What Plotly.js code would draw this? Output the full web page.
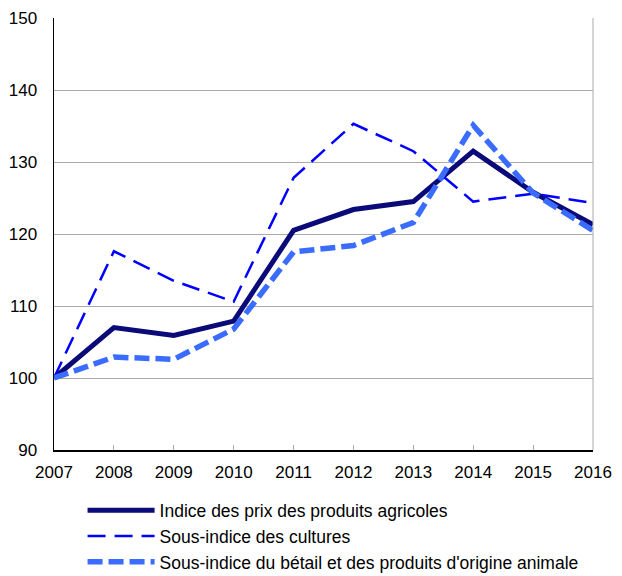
<!DOCTYPE html>
<html>
<head>
<meta charset="utf-8">
<script src="https://cdn.plot.ly/plotly-3.0.1.min.js"></script>
<style>html,body{margin:0;padding:0;background:#fff;}#chart{width:622px;height:576px;}</style>
</head>
<body>
<div id="chart"></div>
<script>
const years = ["2007","2008","2009","2010","2011","2012","2013","2014","2015","2016"];
const indiceAgricole = [100, 107.0, 105.9, 107.9, 120.5, 123.4, 124.5, 131.5, 125.8, 121.3];
const sousIndiceCultures = [100, 117.6, 113.5, 110.6, 127.8, 135.3, 131.5, 124.5, 125.6, 124.3];
const sousIndiceBetail = [100, 102.9, 102.6, 106.8, 117.5, 118.4, 121.6, 135.1, 125.7, 120.5];
const seriesNames = [
  "Indice des prix des produits agricoles",
  "Sous-indice des cultures",
  "Sous-indice du bétail et des produits d'origine animale"
];
const yTicks = [90, 100, 110, 120, 130, 140, 150];

const font = "Liberation Sans, Arial, sans-serif";
const traces = [
  {x: years, y: indiceAgricole, name: seriesNames[0], mode: "lines", legendgroup: "a",
   line: {color: "#0a0a78", width: 5}},
  {x: years, y: sousIndiceCultures, name: seriesNames[1], mode: "lines", legendgroup: "b",
   line: {color: "#0000ff", width: 2.5, dash: "18px,9px"}},
  {x: years, y: sousIndiceBetail, name: seriesNames[2], mode: "lines", legendgroup: "c",
   line: {color: "#3a6cff", width: 5.5, dash: "15px,6px"}}
];
const layout = {
  width: 622, height: 576,
  margin: {l: 54, r: 29, t: 18, b: 126, autoexpand: false},
  paper_bgcolor: "#fff", plot_bgcolor: "#fff",
  font: {family: font, size: 17, color: "#000"},
  showlegend: true,
  legend: {x: 0.053, xanchor: "left", y: -0.098, yanchor: "top", orientation: "v",
           itemwidth: 67,
           font: {family: font, size: 17.5, color: "#000"}, tracegroupgap: 0,
           bgcolor: "rgba(0,0,0,0)"},
  xaxis: {type: "category", range: [0, 9], showgrid: false, showline: true, linecolor: "#000", linewidth: 1.5,
          ticks: "inside", ticklen: 5, tickcolor: "#aaa", tickwidth: 1, ticklabelstandoff: 6,
          zeroline: false, fixedrange: true},
  yaxis: {range: [90, 150], tickvals: yTicks, showgrid: true, gridcolor: "#aaa", gridwidth: 1,
          showline: true, linecolor: "#000", linewidth: 1.5, ticks: "", ticklabelstandoff: 12,
          zeroline: false, fixedrange: true},
  shapes: [{type: "line", xref: "paper", yref: "paper", x0: 1, x1: 1, y0: 0, y1: 1,
            line: {color: "#aaa", width: 1}}]
};
Plotly.newPlot("chart", traces, layout, {displayModeBar: false, staticPlot: true});
</script>
</body>
</html>
